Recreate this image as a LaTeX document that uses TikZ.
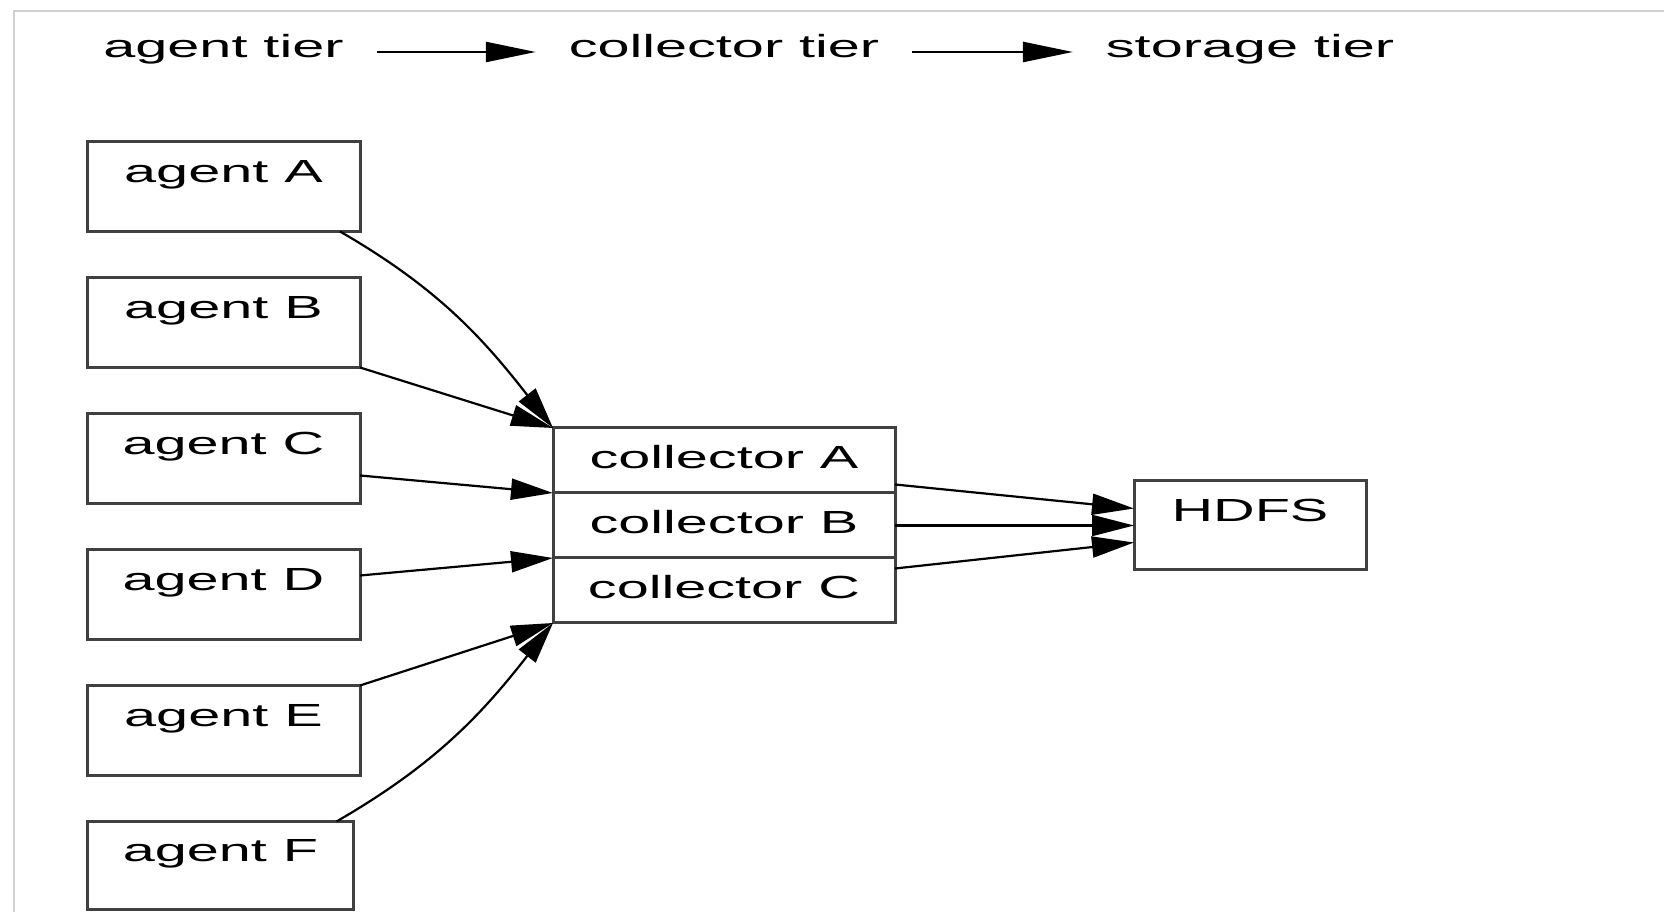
\documentclass[tikz,border=0pt]{standalone}
\usepackage{fontspec}
\setmainfont[FakeStretch=1.8]{Liberation Sans}
\usetikzlibrary{arrows.meta}
\usetikzlibrary{positioning}

\begin{document}
\begin{tikzpicture}[x=1pt,y=1pt]
  \tikzset{every node/.style={font=\fontsize{32pt}{38pt}\selectfont},
           plainbox/.style={draw=black!75,line width=3pt,minimum width=#1,minimum height=90pt,
             text height=23pt,text depth=30pt,inner sep=0pt,outer sep=0pt},
           collbox/.style={draw=black!75,line width=3pt,minimum width=342pt,minimum height=65pt,
             text height=23pt,text depth=6pt,inner sep=0pt,outer sep=0pt},
           tier/.style={text height=23pt,text depth=11pt,inner xsep=33pt,inner ysep=0pt,outer sep=0pt},
           tierflow/.style={-{Triangle[length=50pt,width=20pt]},line width=2.5pt},
           feeds/.style={-{Triangle[length=42pt,width=21pt]},line width=2.2pt}}
  \useasboundingbox (0,0) rectangle (1664,912);
  \draw[black!18,line width=2pt] (14,0) -- (14,901) -- (1664,901);

  % agents
  \node[plainbox=273pt] (agentA) at (223.5,725.5) {agent A};
  \node[plainbox=273pt,below=46pt of agentA] (agentB) {agent B};
  \node[plainbox=273pt,below=46pt of agentB] (agentC) {agent C};
  \node[plainbox=273pt,below=46pt of agentC] (agentD) {agent D};
  \node[plainbox=273pt,below=46pt of agentD] (agentE) {agent E};
  \node[plainbox=266pt,minimum height=88pt,below=46pt of agentE,xshift=-3pt] (agentF) {agent F};

  % collectors, stacked
  \node[collbox] (collA) at (724,451.5) {collector A};
  \node[collbox,below=0pt of collA] (collB) {collector B};
  \node[collbox,below=0pt of collB] (collC) {collector C};

  \node[plainbox=232pt,minimum height=89pt] (hdfs) at (1250,386.5) {HDFS};

  % tier headings
  \coordinate (hdr) at (0,860);
  \node[tier] (agenttier) at (agentA |- hdr) {agent tier};
  \node[tier] (colltier) at (collA |- hdr) {collector tier};
  \node[tier] (storetier) at (hdfs |- hdr) {storage tier};
  \draw[tierflow] (agenttier) -- (colltier);
  \draw[tierflow] (colltier) -- (storetier);

  \draw[feeds] ([xshift=-20pt]agentA.south east) to[out=-30,in=128] (collA.north west);
  \draw[feeds] (agentB.south east) -- (collA.north west);
  \draw[feeds] ([yshift=-17pt]agentC.east) -- (collB.north west);
  \draw[feeds] ([yshift=19pt]agentD.east) -- (collC.north west);
  \draw[feeds] (agentE.north east) -- (collC.south west);
  \draw[feeds] ([xshift=-17pt]agentF.north east) to[out=30,in=-128] (collC.south west);

  \draw[feeds] ([yshift=-24pt]collA.east) -- ([yshift=17pt]hdfs.west);
  \draw[feeds] (collB.east) -- (hdfs.west);
  \draw[feeds] ([yshift=22pt]collC.east) -- ([yshift=-17pt]hdfs.west);
\end{tikzpicture}
\end{document}
